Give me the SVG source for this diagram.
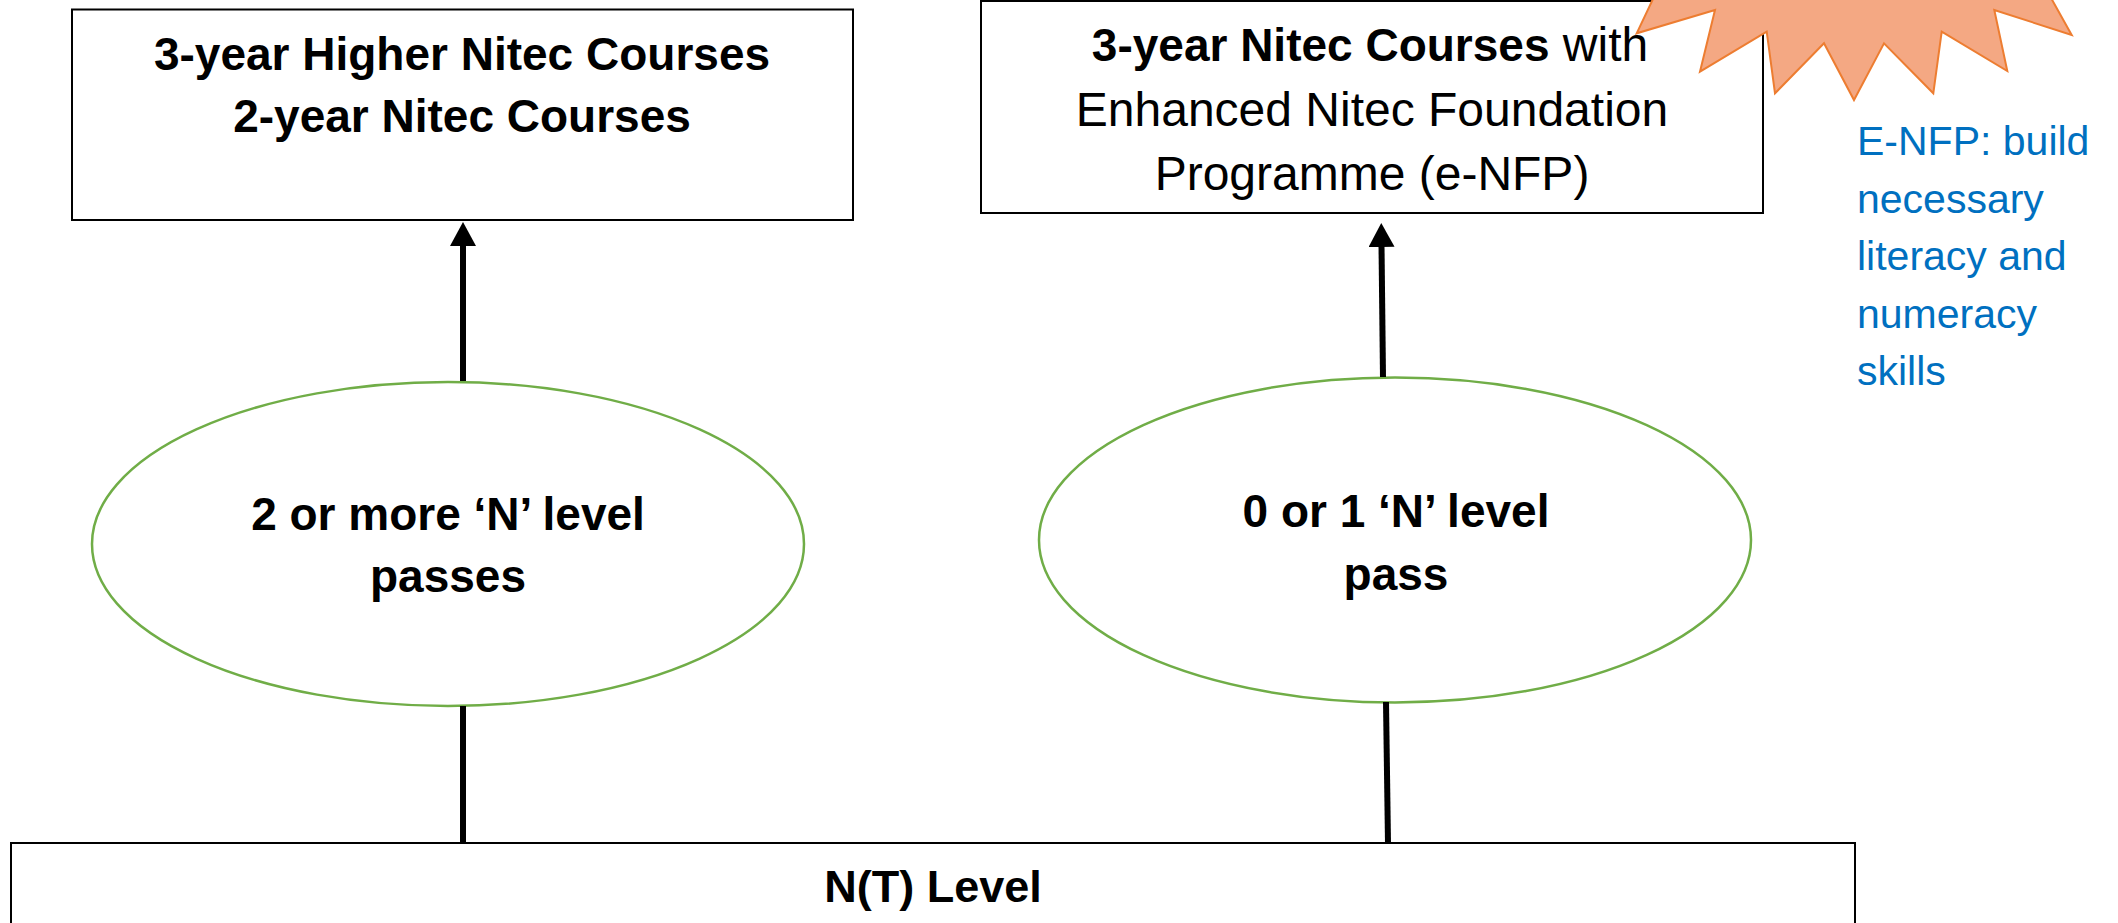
<svg xmlns="http://www.w3.org/2000/svg" width="2118" height="923" viewBox="0 0 2118 923">
<style>
  .box { fill: #ffffff; stroke: #000000; stroke-width: 2; }
  .oval { fill: #ffffff; stroke: #70AD47; stroke-width: 2.5; }
  .t { font-family: "Liberation Sans", Arial, sans-serif; fill: #000000; text-anchor: middle; }
  .b { font-weight: bold; font-size: 46px; }
  .r { font-weight: normal; font-size: 48px; }
  .note { font-family: "Liberation Sans", Arial, sans-serif; fill: #0070C0; font-size: 41px; }
  .conn { stroke: #000000; stroke-width: 6; fill: none; }
</style>
<defs>
  <marker id="arrow" markerUnits="userSpaceOnUse" markerWidth="24" markerHeight="26" viewBox="0 0 24 26" refX="2" refY="13" orient="auto">
    <path d="M0,0 L24,13 L0,26 z" fill="#000000"/>
  </marker>
</defs>
<rect width="2118" height="923" fill="#ffffff"/>

<g id="node-higher-nitec">
  <rect class="box" x="72" y="9.5" width="781" height="210.5"/>
  <text class="t b" x="462" y="70">3-year Higher Nitec Courses</text>
  <text class="t b" x="462" y="132">2-year Nitec Courses</text>
</g>

<g id="node-nitec-enfp">
  <rect class="box" x="981" y="1" width="782" height="212"/>
  <text class="t" x="1370" y="61"><tspan class="b">3-year Nitec Courses</tspan><tspan class="r"> with</tspan></text>
  <text class="t r" x="1372" y="126">Enhanced Nitec Foundation</text>
  <text class="t r" x="1372" y="190">Programme (e-NFP)</text>
</g>

<g id="node-starburst">
  <polygon points="1662,-20 1636.7,33.3 1715,10 1700,71.7 1766.7,31.7 1775,93.3 1824,43.3 1854,100 1884,43.3 1933.3,93.3 1941.7,31.7 2007.3,71 1994.3,10 2071.7,35 2041,-20" fill="#F4A883" stroke="#ED7D31" stroke-width="2"/>
</g>

<g id="node-enfp-note">
  <text class="note" x="1857" y="155">E-NFP: build</text>
  <text class="note" x="1857" y="213">necessary</text>
  <text class="note" x="1857" y="270">literacy and</text>
  <text class="note" x="1857" y="328">numeracy</text>
  <text class="note" x="1857" y="385">skills</text>
</g>

<g id="node-two-or-more">
  <ellipse class="oval" cx="448" cy="544" rx="356" ry="162"/>
  <text class="t b" x="448" y="530">2 or more ‘N’ level</text>
  <text class="t b" x="448" y="592">passes</text>
</g>

<g id="node-zero-or-one">
  <ellipse class="oval" cx="1395" cy="540" rx="356" ry="162.5"/>
  <text class="t b" x="1396" y="527">0 or 1 ‘N’ level</text>
  <text class="t b" x="1396" y="590">pass</text>
</g>

<g id="node-nt-level">
  <rect class="box" x="11" y="843" width="1844" height="100" stroke-width="2.5"/>
  <text class="t" style="font-weight:bold;font-size:45px" x="933" y="902">N(T) Level</text>
</g>

<g id="connectors">
  <line class="conn" x1="463" y1="381" x2="463" y2="244" marker-end="url(#arrow)"/>
  <line class="conn" x1="1383" y1="377" x2="1381.5" y2="245" marker-end="url(#arrow)"/>
  <line class="conn" x1="463" y1="706" x2="463" y2="843"/>
  <line class="conn" x1="1386" y1="702" x2="1388" y2="843"/>
</g>
</svg>
